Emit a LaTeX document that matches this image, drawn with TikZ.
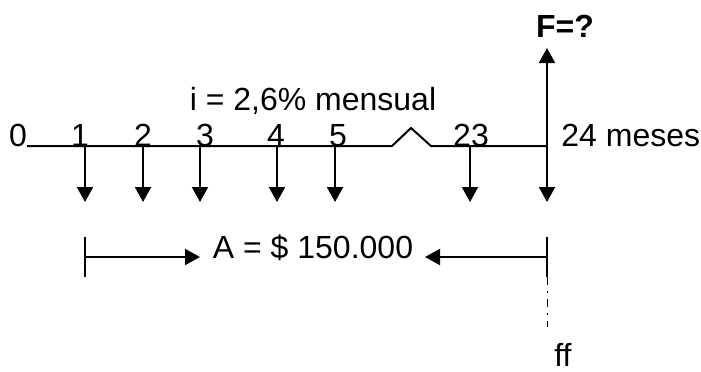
\documentclass[tikz,border=0pt]{standalone}
\usepackage{fontspec}
\setmainfont{Liberation Sans}
\usetikzlibrary{arrows.meta,calc}
\tikzset{
    flujo/.style={-{Triangle[length=7.5pt,width=8pt]}, line width=1pt},
    eje/.style={line width=1pt},
    periodo/.style={anchor=base, inner sep=0pt},
    marca/.style={line width=1pt},
    guia/.style={line width=0.5pt, dash pattern=on 4pt off 3pt on 1pt off 3pt}
}

\begin{document}
\begin{tikzpicture}[
        x=0.5pt, y=-0.5pt,
        every node/.style={font=\fontsize{16}{19}\selectfont}
    ]
    \useasboundingbox (0,0) rectangle (701,371);

    % eje de tiempo con quiebre
    \coordinate (ini) at (27,146);
    \coordinate (q1) at (392,146);
    \coordinate (pico) at (411,128);
    \coordinate (q2) at (431,146);
    \coordinate (fin) at (547,146);
    \draw[eje] (ini) -- (q1) -- (pico) -- (q2) -- (fin);

    \node[periodo] (n0) at (18,146) {0};
    \node[periodo, anchor=base west] (meses) at (561,146) {24 meses};
    \node[periodo] (tasa) at (313,110) {i = 2,6\% mensual};

    % pagos mensuales
    \foreach \x/\n/\lx in {85/1/80, 143/2/143, 200/3/205, 277/4/276, 335/5/338, 470/23/471}{
        \coordinate (t\n) at (\x,146);
        \coordinate (p\n) at (\x,202);
        \draw[flujo] (t\n) -- (p\n);
        \node[periodo] (n\n) at (\lx,146) {\n};
    }
    \coordinate (p24) at (547,202);
    \draw[flujo] (fin) -- (p24);

    % valor futuro
    \node[periodo, font=\fontsize{16}{19}\selectfont\bfseries] (valorF) at (565,37) {F=?};
    \coordinate (topeF) at (547,48);
    \draw[flujo] (fin) -- (topeF);

    % anualidad
    \node[periodo] (monto) at (313,258) {A = \$ 150.000};
    \coordinate (a1) at (85,237);
    \coordinate (a2) at (85,277);
    \coordinate (am) at (85,257);
    \coordinate (b1) at (547,237);
    \coordinate (b2) at (547,277);
    \coordinate (bm) at (547,257);
    \coordinate (ai) at (200,257);
    \coordinate (bi) at (425,257);
    \draw[marca] (a1) -- (a2);
    \draw[marca] (b1) -- (b2);
    \draw[flujo] (am) -- (ai);
    \draw[flujo] (bm) -- (bi);

    % fecha focal
    \coordinate (g) at (547,327);
    \draw[guia] (b2) -- (g);
    \node[periodo] (ff) at (563,366) {ff};
\end{tikzpicture}
\end{document}
